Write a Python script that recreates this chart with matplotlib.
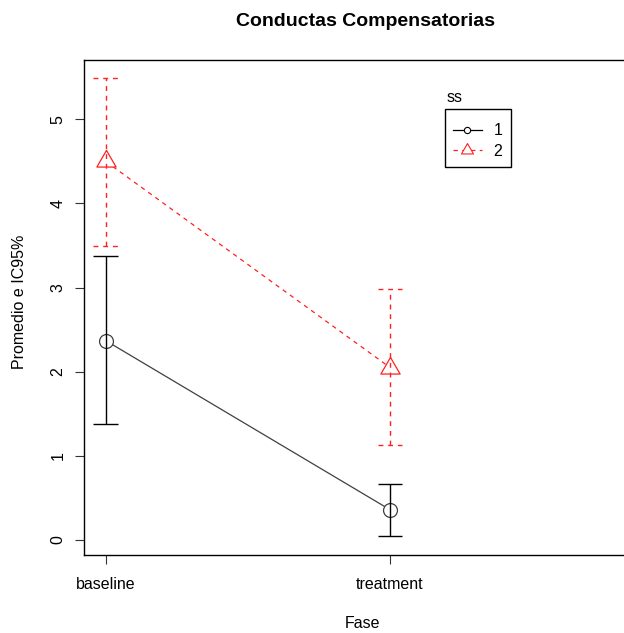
import numpy as np
import matplotlib
matplotlib.use('Agg')
import matplotlib.pyplot as plt
from matplotlib.lines import Line2D

plt.rcParams['font.family'] = ['Liberation Sans', 'DejaVu Sans']

# datos
fase = ['baseline', 'treatment']
ss_levels = ['1', '2']
media_1 = [2.37, 0.36]
inf_1 = [1.38, 0.05]
sup_1 = [3.37, 0.67]
media_2 = [4.50, 2.05]
inf_2 = [3.50, 1.13]
sup_2 = [5.49, 2.98]

W, H = 624, 633
fig = plt.figure(figsize=(W / 100, H / 100), dpi=100)
ax = fig.add_axes([84 / W, 1 - 554.5 / H, (642 - 84) / W, (554.5 - 59.5) / H])

# triangulo estilo R (centroide en el punto)
tri = [(0, 1), (-0.866, -0.5), (0.866, -0.5), (0, 1)]
cap = 0.043
dash = (0, (3.5, 3.5))


def serie(media, inf, sup, color, bar_color, ls, marker, ms):
    x = np.arange(1, len(media) + 1)
    ax.plot(x, media, color=color, ls=ls, lw=0.9, zorder=2)
    ax.plot(x, media, ls='none', marker=marker, ms=ms, mfc='white',
            mec=color, mew=0.9, zorder=3)
    ax.vlines(x, inf, sup, colors=bar_color, linestyles=ls, lw=1, zorder=4)
    ax.hlines(inf, x - cap, x + cap, colors=bar_color, linestyles=ls, lw=1, zorder=4)
    ax.hlines(sup, x - cap, x + cap, colors=bar_color, linestyles=ls, lw=1, zorder=4)


serie(media_1, inf_1, sup_1, '#404040', 'black', '-', 'o', 10)
serie(media_2, inf_2, sup_2, '#ff2020', '#ff2020', dash, tri, 16)

ax.set_xlim(0.9237, 2.886)
ax.set_ylim(-0.172, 5.711)
ax.set_xticks(np.arange(1, len(fase) + 1), fase)
ax.set_yticks(range(6))
ax.tick_params(axis='both', length=6.5, width=0.8, labelsize=11.5, color='#333333')
ax.tick_params(axis='x', pad=10)
ax.tick_params(axis='y', pad=7, labelrotation=90)
for lab in ax.get_yticklabels():
    lab.set_va('center')
for s in ax.spines.values():
    s.set_linewidth(1.0)

# leyenda
handles = [
    Line2D([], [], color='black', lw=0.9, marker='o', ms=4.5, mfc='white', mec='black', mew=0.8),
    Line2D([], [], color='#ff2020', lw=0.9, ls=dash, marker=tri, ms=10, mfc='white', mec='#ff2020', mew=0.8),
]
leg = fig.legend(handles, ss_levels, loc='upper left', bbox_to_anchor=(445 / W, 1 - 109 / H),
                 bbox_transform=fig.transFigure, borderaxespad=0, fontsize=11.5,
                 handlelength=1.8, handletextpad=0.75, labelspacing=0.33, borderpad=0.5,
                 fancybox=False, framealpha=1, edgecolor='black',
                 title=' ', title_fontsize=1)
leg.get_frame().set_linewidth(1.0)
fig.text(447 / W, 1 - 97 / H, 'ss', ha='left', va='center', fontsize=11.5)

fig.text(366 / W, 1 - 21.5 / H, 'Conductas Compensatorias', ha='center', va='center',
         fontsize=14, fontweight='bold')
fig.text(362 / W, 1 - 623 / H, 'Fase', ha='center', va='center', fontsize=11.5)
fig.text(20 / W, 1 - 302 / H, 'Promedio e IC95%', ha='center', va='center',
         rotation=90, fontsize=11.5)

fig.savefig('out.png', dpi=100)
